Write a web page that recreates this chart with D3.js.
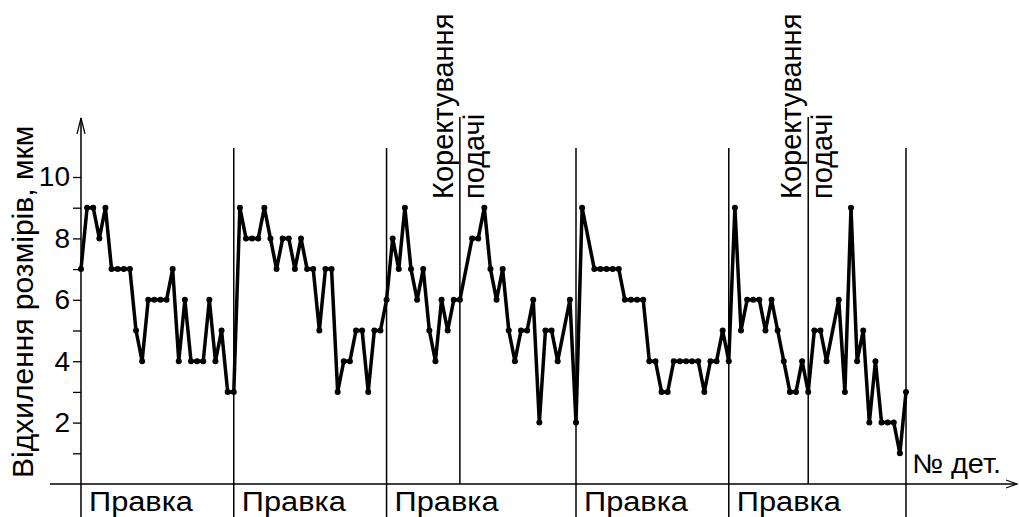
<!DOCTYPE html>
<html>
<head>
<meta charset="utf-8">
<script src="https://cdn.jsdelivr.net/npm/d3@7"></script>
<style>
body { margin: 0; background: #fff; }
text { font-family: "Liberation Sans", Arial, sans-serif; fill: #000; }
</style>
</head>
<body>
<div id="chart"></div>
<script>
/* deviation of part sizes between tool corrections */

// deviation per part, um (null = no part drawn at that position)
const deviation = [7,9,9,8,9,7,7,7,7,5, 4,6,6,6,6,7,4,6,4,4,
    4,6,4,5,3,3,9,8,8,8, 9,8,7,8,8,7,8,7,7,5,
    7,7,3,4,4,5,5,3,5,5, 6,8,7,9,7,6,7,5,4,6,
    5,6,6,null,8,8,9,7,6,7, 5,4,5,5,6,2,5,5,4,null,
    6,2,9,null,7,7,7,7,7,6, 6,6,6,4,4,3,3,4,4,4,
    4,4,3,4,4,5,4,9,5,6, 6,6,5,6,5,4,3,3,4,3,
    5,5,4,null,6,3,9,4,5,2, 4,2,2,2,1,3];

const pravkaStart = [0, 25, 50, 81, 106];   // "Правка" labels start here
const pravkaLines = [25, 50, 81, 106, 135]; // long vertical lines
const correction = [62, 119];               // "Коректування подачі"
const yTicks = [1,2,3,4,5,6,7,8,9,10];

const width = 1019, height = 517;

const svg = d3.select("#chart")
    .append("svg")
    .attr("width", width)
    .attr("height", height);

const x = d3.scaleLinear()
    .domain([0, deviation.length - 1])
    .range([81, 906]);

const y = d3.scaleLinear()
    .domain([0, 10])
    .range([484, 177]);

const pts = deviation.map((v, i) => ({i: i, v: v})).filter(d => d.v !== null);

// x axis with arrow
svg.append("line")
    .attr("x1", 50).attr("x2", 1017)
    .attr("y1", y(0)).attr("y2", y(0))
    .attr("stroke", "#000").attr("stroke-width", 1.5);
svg.append("path")
    .attr("d", `M1006,${y(0) - 4}L1017,${y(0)}L1006,${y(0) + 4}`)
    .attr("fill", "none").attr("stroke", "#000").attr("stroke-width", 1.2);

// y axis with arrow
svg.append("line")
    .attr("x1", x(0)).attr("x2", x(0))
    .attr("y1", height).attr("y2", 118)
    .attr("stroke", "#000").attr("stroke-width", 1.5);
svg.append("path")
    .attr("d", `M${x(0) - 4},134L${x(0)},118L${x(0) + 4},134`)
    .attr("fill", "none").attr("stroke", "#000").attr("stroke-width", 1.2);

const yAxis = svg.append("g")
    .attr("transform", `translate(${x(0)},0)`)
    .call(d3.axisLeft(y).tickValues(yTicks).tickSize(8).tickPadding(3)
        .tickFormat(d => d % 2 === 0 ? d : ""));
yAxis.select(".domain").remove();
yAxis.selectAll("line").attr("stroke-width", 1.3);
yAxis.selectAll("text")
    .attr("font-size", 28)
    .attr("font-family", "Liberation Sans, Arial, sans-serif");

svg.append("text")
    .attr("transform", `translate(33,478) rotate(-90)`)
    .attr("font-size", 30)
    .text("Відхилення розмірів, мкм");

// vertical separators
svg.selectAll(".sep")
    .data(pravkaLines)
    .join("line")
    .attr("class", "sep")
    .attr("x1", d => x(d)).attr("x2", d => x(d))
    .attr("y1", 148).attr("y2", height)
    .attr("stroke", "#000").attr("stroke-width", 1.5);

svg.selectAll(".corr")
    .data(correction)
    .join("line")
    .attr("class", "corr")
    .attr("x1", d => x(d)).attr("x2", d => x(d))
    .attr("y1", 117).attr("y2", y(0))
    .attr("stroke", "#000").attr("stroke-width", 1.5);

svg.selectAll(".pravka")
    .data(pravkaStart)
    .join("text")
    .attr("class", "pravka")
    .attr("x", d => x(d) + 8)
    .attr("y", 511)
    .attr("font-size", 27)
    .attr("textLength", 104)
    .attr("lengthAdjust", "spacingAndGlyphs")
    .text("Правка");

let corrText = svg.selectAll(".corrText")
    .data(correction)
    .join("g")
    .attr("class", "corrText");
corrText.append("text")
    .attr("transform", d => `translate(${x(d) - 7},199) rotate(-90)`)
    .attr("font-size", 29)
    .text("Коректування");
corrText.append("text")
    .attr("transform", d => `translate(${x(d) + 24},199) rotate(-90)`)
    .attr("font-size", 29)
    .text("подачі");

svg.append("text")
    .attr("x", 912).attr("y", 473)
    .attr("font-size", 27)
    .attr("textLength", 89)
    .attr("lengthAdjust", "spacingAndGlyphs")
    .text("№ дет.");

// data line and dots
svg.append("path")
    .datum(pts)
    .attr("fill", "none")
    .attr("stroke", "#000")
    .attr("stroke-width", 3.5)
    .attr("stroke-linejoin", "round")
    .attr("d", d3.line().x(d => x(d.i)).y(d => y(d.v)));

svg.selectAll(".dot")
    .data(pts)
    .join("circle")
    .attr("class", "dot")
    .attr("cx", d => x(d.i))
    .attr("cy", d => y(d.v))
    .attr("r", 3)
    .attr("fill", "#000");
</script>
</body>
</html>
